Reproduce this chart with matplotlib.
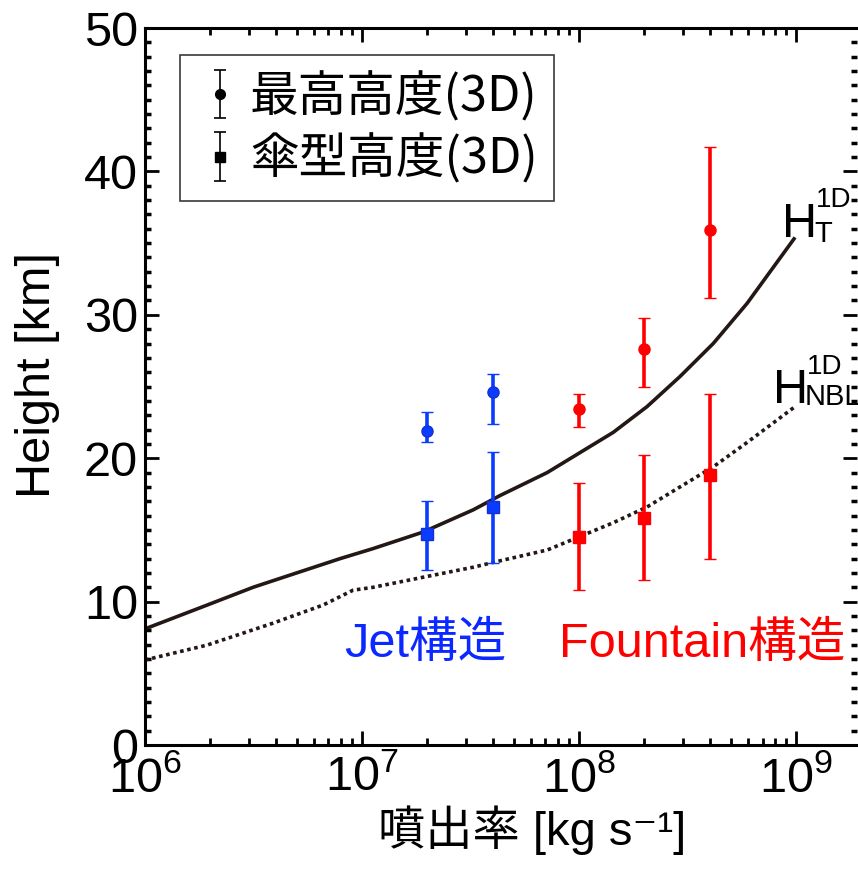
"""Eruption height vs. mass eruption rate: 1D model curves and 3D results."""

import numpy as np
import matplotlib.pyplot as plt
from matplotlib.ticker import MultipleLocator, LogLocator, NullFormatter

plt.rcParams['font.family'] = ['Liberation Sans', 'Noto Sans CJK JP', 'DejaVu Sans']
plt.rcParams['mathtext.fontset'] = 'custom'
plt.rcParams['mathtext.rm'] = 'Liberation Sans'
plt.rcParams['mathtext.it'] = 'Liberation Sans'
plt.rcParams['mathtext.bf'] = 'Liberation Sans:bold'

# 1D model curves (x given as log10 of eruption rate)
HT_LOGX = [6.0, 6.286, 6.498, 6.668, 6.899, 7.051, 7.281, 7.512, 7.636,
           7.853, 8.157, 8.313, 8.465, 8.618, 8.774, 8.995]
HT_Y = [8.1, 9.76, 11.0, 11.85, 13.0, 13.7, 14.85, 16.4, 17.4,
        19.0, 21.8, 23.6, 25.7, 28.0, 30.8, 35.4]
NBL_LOGX = [6.0, 6.286, 6.590, 6.820, 6.959, 7.051, 7.281, 7.512, 7.622,
            7.853, 8.157, 8.313, 8.465, 8.618, 8.774, 8.995]
NBL_Y = [5.93, 6.97, 8.5, 9.76, 10.8, 11.0, 11.7, 12.4, 12.8,
         13.6, 15.5, 16.6, 18.0, 19.4, 21.1, 23.6]

# 3D results: jet (blue) and fountain (red)
JET_X = [2e7, 4e7]
JET_TOP = [21.9, 24.6]
JET_TOP_LO = [21.1, 22.4]
JET_TOP_HI = [23.2, 25.9]
JET_UMB = [14.7, 16.6]
JET_UMB_LO = [12.2, 12.7]
JET_UMB_HI = [17.0, 20.4]

FOU_X = [1e8, 2e8, 4e8]
FOU_TOP = [23.4, 27.6, 35.9]
FOU_TOP_LO = [22.2, 25.0, 31.2]
FOU_TOP_HI = [24.5, 29.8, 41.7]
FOU_UMB = [14.5, 15.8, 18.8]
FOU_UMB_LO = [10.8, 11.5, 13.0]
FOU_UMB_HI = [18.3, 20.2, 24.5]

BLUE = '#0a3cff'
RED = '#ff0000'
DARK = '#231815'

fig = plt.figure(figsize=(8.58, 8.76), dpi=100)
ax = fig.add_axes([0.169, 0.1495, 0.830, 0.8185])

ax.plot(10 ** np.array(HT_LOGX), HT_Y, color=DARK, lw=2.6, solid_capstyle='butt')
ax.plot(10 ** np.array(NBL_LOGX), NBL_Y, color=DARK, lw=2.6, linestyle=(0, (1, 1)))


def bars(xs, ys, lo, hi, color, marker, edge):
    ys = np.array(ys)
    err = [ys - np.array(lo), np.array(hi) - ys]
    ax.errorbar(xs, ys, yerr=err, fmt=marker, color=color, mfc=color, mec=edge,
                ms=8, mew=1.0, elinewidth=2.6, capsize=4, capthick=2.2, zorder=5)


bars(JET_X, JET_TOP, JET_TOP_LO, JET_TOP_HI, BLUE, 'o', '#1530d0')
bars(JET_X, JET_UMB, JET_UMB_LO, JET_UMB_HI, BLUE, 's', '#1530d0')
bars(FOU_X, FOU_TOP, FOU_TOP_LO, FOU_TOP_HI, RED, 'o', RED)
bars(FOU_X, FOU_UMB, FOU_UMB_LO, FOU_UMB_HI, RED, 's', RED)

# legend proxies (black, thin)
h1 = ax.errorbar([np.nan], [np.nan], yerr=[[np.nan]], fmt='o', color='k', ms=7,
                 elinewidth=1.2, capsize=4, capthick=1.2)
h2 = ax.errorbar([np.nan], [np.nan], yerr=[[np.nan]], fmt='s', color='k', ms=7,
                 elinewidth=1.2, capsize=4, capthick=1.2)
leg = ax.legend([h1, h2], ['最高高度(3D)', '傘型高度(3D)'],
                loc='upper left', bbox_to_anchor=(0.049, 0.962),
                prop={'family': ['Noto Sans CJK JP'], 'size': 35},
                handlelength=0.97, handletextpad=0.13, borderpad=0.34,
                labelspacing=0.25, fancybox=False, framealpha=1,
                borderaxespad=0)
leg.get_frame().set_edgecolor('#3a3a3a')
leg.get_frame().set_linewidth(1.2)

# annotations
ax.text(10 ** 7.29, 7.0, 'Jet構造', color='#0a28ff', fontsize=35,
        ha='center', va='center')
ax.text(10 ** 8.567, 7.0, 'Fountain構造', color=RED, fontsize=35,
        ha='center', va='center')

ax.text(10 ** 8.935, 35.4, 'H', fontsize=35, ha='left', va='baseline')
ax.text(10 ** 9.082, 35.1, 'T', fontsize=21, ha='left', va='baseline')
ax.text(10 ** 9.092, 37.5, '1D', fontsize=20, ha='left', va='baseline')
ax.text(10 ** 8.894, 23.85, 'H', fontsize=35, ha='left', va='baseline')
ax.text(10 ** 9.041, 23.7, 'NBL', fontsize=21, ha='left', va='baseline')
ax.text(10 ** 9.051, 25.9, '1D', fontsize=20, ha='left', va='baseline')

# axes
ax.set_xscale('log')
ax.set_xlim(1e6, 1.91e9)
ax.set_ylim(0, 50)
ax.yaxis.set_major_locator(MultipleLocator(10))
ax.yaxis.set_minor_locator(MultipleLocator(1))
ax.xaxis.set_major_locator(LogLocator(base=10, numticks=10))
ax.xaxis.set_minor_locator(LogLocator(base=10, subs=np.arange(2, 10), numticks=10))
ax.xaxis.set_minor_formatter(NullFormatter())

for side in ('left', 'bottom', 'top'):
    ax.spines[side].set_linewidth(2.2)
ax.spines['right'].set_visible(False)

ax.tick_params(which='both', direction='in', top=True, right=True,
               labelsize=35, width=2, colors='k')
ax.tick_params(which='major', length=10)
ax.tick_params(axis='x', which='major', pad=8)
ax.tick_params(axis='y', which='major', pad=5)
ax.tick_params(which='minor', length=5)
ax.tick_params(axis='y', which='minor', right=True, length=4, width=2.5)

ax.set_xlabel('噴出率 [kg s⁻¹]', fontsize=34, labelpad=2, x=0.5435)
ax.set_ylabel('Height [km]', fontsize=35, labelpad=17, y=0.516)

fig.savefig('out.png', dpi=100)
